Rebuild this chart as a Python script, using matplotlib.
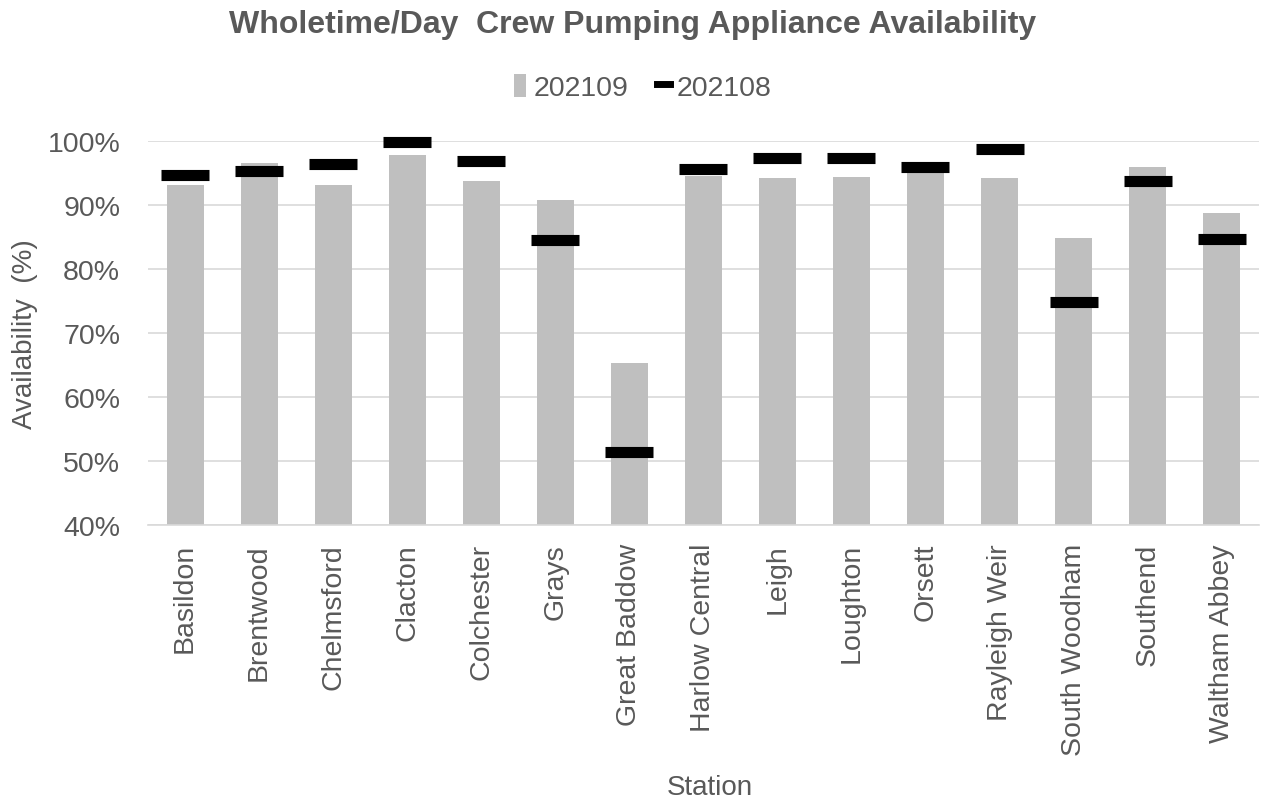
import matplotlib.pyplot as plt
import numpy as np
from matplotlib.lines import Line2D
from matplotlib.patches import Patch

stations = ['Basildon', 'Brentwood', 'Chelmsford', 'Clacton', 'Colchester', 'Grays',
            'Great Baddow', 'Harlow Central', 'Leigh', 'Loughton', 'Orsett',
            'Rayleigh Weir', 'South Woodham', 'Southend', 'Waltham Abbey']
avail_202109 = [93.2, 96.6, 93.2, 97.8, 93.8, 90.8, 65.3, 94.6, 94.2, 94.4, 95.5,
                94.2, 84.8, 96.0, 88.8]
avail_202108 = [94.7, 95.3, 96.5, 99.9, 96.9, 84.5, 51.4, 95.7, 97.3, 97.3, 95.9,
                98.7, 74.9, 93.7, 84.7]

plt.rcParams['font.family'] = ['Liberation Sans', 'DejaVu Sans']
text_col = '#595959'
bar_col = '#bfbfbf'

fig = plt.figure(figsize=(12.65, 8.03), dpi=100)
ax = fig.add_axes([0.117, 0.345, 0.878, 0.478])

x = np.arange(len(stations))
ax.bar(x, np.array(avail_202109) / 100, width=0.5, color=bar_col, zorder=2)
ax.plot(x, np.array(avail_202108) / 100, ls='none', marker='_', ms=34, mew=8,
        color='black', zorder=3, clip_on=False)

ax.set_xlim(-0.5, len(stations) - 0.5)
ax.set_ylim(0.4, 1.0)
ticks = np.arange(0.4, 1.01, 0.1)
ax.set_yticks(ticks)
ax.set_yticklabels([f'{int(round(v * 100))}%' for v in ticks])
ax.set_xticks(x)
ax.set_xticklabels(stations, rotation=90)

ax.grid(axis='y', color='#d9d9d9', linewidth=1.2, zorder=0)
for s in ['top', 'right', 'left']:
    ax.spines[s].set_visible(False)
ax.spines['bottom'].set_color('#d9d9d9')
ax.spines['bottom'].set_linewidth(1.2)
ax.tick_params(axis='both', length=0, labelsize=20.5, colors=text_col)
ax.tick_params(axis='y', pad=20)
ax.tick_params(axis='x', pad=13)

ax.set_ylabel('Availability  (%)', fontsize=20, color=text_col)
ax.yaxis.set_label_coords(-0.099, 0.5)
ax.set_xlabel('Station', fontsize=20, color=text_col)
ax.xaxis.set_label_coords(0.506, -0.648)

fig.suptitle('Wholetime/Day  Crew Pumping Appliance Availability', x=0.5, y=0.988,
             fontsize=23, fontweight='bold', color=text_col)

legend_elements = [
    Patch(facecolor=bar_col, label='202109'),
    Line2D([0], [0], color='black', lw=5, label='202108'),
]
fig.legend(handles=legend_elements, loc='center', bbox_to_anchor=(0.508, 0.89), ncol=2,
           frameon=False, fontsize=20.5, labelcolor=text_col, handlelength=0.45,
           handleheight=0.9, handletextpad=0.25, columnspacing=1.0)

fig.savefig('out.png', dpi=100)
